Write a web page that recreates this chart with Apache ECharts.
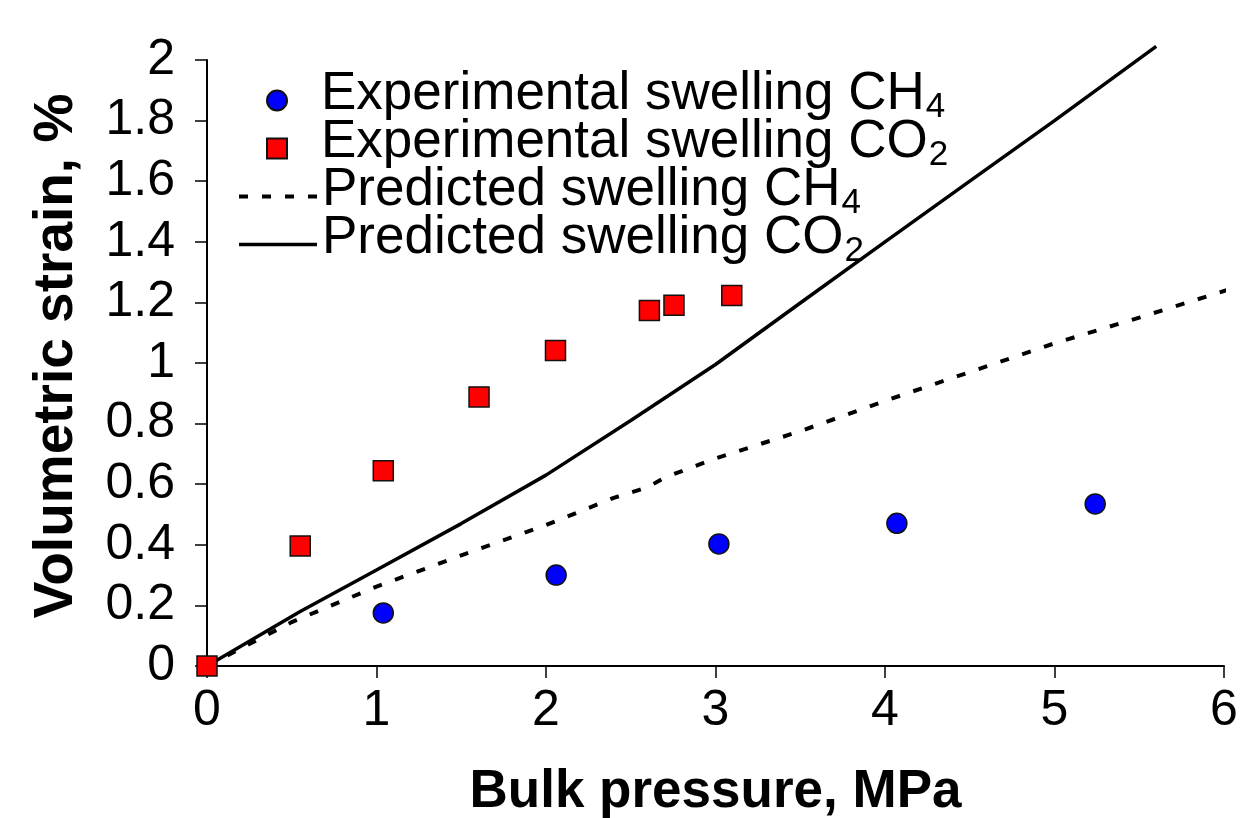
<!DOCTYPE html>
<html>
<head>
<meta charset="utf-8">
<script src="https://cdn.jsdelivr.net/npm/echarts@6/dist/echarts.min.js"></script>
<style>
  html, body { margin: 0; padding: 0; background: #fff; }
  #chart { width: 1240px; height: 818px; }
</style>
</head>
<body>
<div id="chart"></div>
<script>
// Bulk pressure (MPa) vs volumetric strain (%)
const ch4ExpPressure = [1.04, 2.06, 3.02, 4.07, 5.24];
const ch4ExpStrain   = [0.175, 0.30, 0.403, 0.471, 0.535];

const co2ExpPressure = [0, 0.55, 1.04, 1.605, 2.056, 2.61, 2.755, 3.096];
const co2ExpStrain   = [0, 0.396, 0.644, 0.888, 1.041, 1.173, 1.191, 1.223];

const ch4PredPressure = [0, 0.5, 1.0, 1.5, 2.0, 2.4, 2.6, 2.7, 3.0, 3.5, 4.0, 4.5, 5.0, 5.5, 6.1];
const ch4PredStrain   = [0, 0.145, 0.262, 0.365, 0.465, 0.555, 0.59, 0.622, 0.685, 0.775, 0.875, 0.97, 1.065, 1.15, 1.255];

const co2PredPressure = [0, 0.55, 1.0, 1.5, 2.0, 2.5, 3.0, 3.5, 4.0, 4.5, 5.0, 5.6];
const co2PredStrain   = [0, 0.18, 0.317, 0.47, 0.63, 0.81, 0.995, 1.198, 1.40, 1.60, 1.80, 2.045];

const xTicks = [0, 1, 2, 3, 4, 5, 6];
const yTicks = [0, 0.2, 0.4, 0.6, 0.8, 1, 1.2, 1.4, 1.6, 1.8, 2];

const seriesNames = {
  ch4Exp: 'Experimental swelling CH4',
  co2Exp: 'Experimental swelling CO2',
  ch4Pred: 'Predicted swelling CH4',
  co2Pred: 'Predicted swelling CO2'
};

const pairs = (xs, ys) => xs.map((x, i) => [x, ys[i]]);

// legend labels with a subscripted trailing digit
const legendLabel = name => {
  const m = name.match(/^(.*?)(\d)$/);
  return m ? '{m|' + m[1] + '}{s|' + m[2] + '}' : '{m|' + name + '}';
};

const FONT = '"Liberation Sans", Arial, Helvetica, sans-serif';

const DOTTED = { color: '#000', width: 4, type: [9, 14], cap: 'butt' };
const SOLID = { color: '#000', width: 3.5, type: 'solid' };

const legendText = (leftPad) => ({
  fontFamily: FONT,
  color: '#000',
  padding: [0, 0, 8, 0],
  rich: {
    m: { fontFamily: FONT, fontSize: 53, verticalAlign: 'top', padding: [0, 0, 0, leftPad], color: '#000' },
    s: { fontFamily: FONT, fontSize: 35, verticalAlign: 'bottom', padding: [22, 0, 0, 1], color: '#000' }
  }
});

const ROW = 48;
const LEGEND_TOP = 68;
const LEGEND_GAP = -9;
const hiddenSymbol = { color: 'rgba(0,0,0,0)', borderWidth: 0, opacity: 0 };

const chart = echarts.init(document.getElementById('chart'), null, { renderer: 'canvas' });

chart.setOption({
  animation: false,
  backgroundColor: '#ffffff',
  textStyle: { fontFamily: FONT, color: '#000' },
  grid: { left: 207, right: 16, top: 60, bottom: 152, containLabel: false, outerBoundsMode: 'none' },
  legend: [
    {
      // marker entries
      orient: 'vertical',
      left: 266,
      top: LEGEND_TOP,
      padding: 0,
      itemGap: LEGEND_GAP,
      itemWidth: 20,
      itemHeight: 20,
      selectedMode: false,
      data: [seriesNames.ch4Exp, seriesNames.co2Exp],
      formatter: legendLabel,
      textStyle: legendText(29)
    },
    {
      // line entries
      orient: 'vertical',
      left: 237,
      top: LEGEND_TOP + 2 * ROW,
      padding: 0,
      itemGap: LEGEND_GAP,
      itemWidth: 78,
      itemHeight: 20,
      selectedMode: false,
      data: [
        { name: seriesNames.ch4Pred, itemStyle: hiddenSymbol, lineStyle: DOTTED },
        { name: seriesNames.co2Pred, itemStyle: hiddenSymbol, lineStyle: SOLID }
      ],
      formatter: legendLabel,
      textStyle: legendText(0)
    }
  ],
  xAxis: {
    type: 'value',
    min: xTicks[0],
    max: xTicks[xTicks.length - 1],
    interval: 1,
    name: 'Bulk pressure, MPa',
    nameLocation: 'middle',
    nameGap: 100,
    nameTextStyle: { fontFamily: FONT, fontSize: 53, fontWeight: 'bold', color: '#000' },
    axisLine: { show: true, onZero: false, lineStyle: { color: '#000', width: 2 } },
    axisTick: { show: true, inside: false, length: 12, lineStyle: { color: '#000', width: 1.5 } },
    axisLabel: { margin: 20, fontFamily: FONT, fontSize: 50, color: '#000' },
    splitLine: { show: false }
  },
  yAxis: {
    type: 'value',
    min: yTicks[0],
    max: yTicks[yTicks.length - 1],
    interval: 0.2,
    name: 'Volumetric strain, %',
    nameLocation: 'middle',
    nameRotate: 90,
    nameGap: 123,
    nameTextStyle: { fontFamily: FONT, fontSize: 55, fontWeight: 'bold', color: '#000', padding: [0, 0, 0, 14] },
    axisLine: { show: true, onZero: false, lineStyle: { color: '#000', width: 2 } },
    axisTick: { show: true, inside: false, length: 12, lineStyle: { color: '#000', width: 1.5 } },
    axisLabel: { margin: 32, fontFamily: FONT, fontSize: 50, color: '#000' },
    splitLine: { show: false }
  },
  series: [
    {
      name: seriesNames.ch4Pred,
      type: 'line',
      data: pairs(ch4PredPressure, ch4PredStrain),
      showSymbol: false,
      symbol: 'none',
      clip: false,
      z: 2,
      itemStyle: { color: '#000' },
      lineStyle: DOTTED
    },
    {
      name: seriesNames.co2Pred,
      type: 'line',
      data: pairs(co2PredPressure, co2PredStrain),
      showSymbol: false,
      symbol: 'none',
      clip: false,
      z: 2,
      itemStyle: { color: '#000' },
      lineStyle: SOLID
    },
    {
      name: seriesNames.ch4Exp,
      type: 'scatter',
      data: pairs(ch4ExpPressure, ch4ExpStrain),
      symbol: 'circle',
      symbolSize: 20,
      clip: false,
      z: 4,
      itemStyle: { color: '#0000ff', borderColor: '#111', borderWidth: 1.5, opacity: 1 }
    },
    {
      name: seriesNames.co2Exp,
      type: 'scatter',
      data: pairs(co2ExpPressure, co2ExpStrain),
      symbol: 'rect',
      symbolSize: 20,
      clip: false,
      z: 4,
      itemStyle: { color: '#ff0000', borderColor: '#111', borderWidth: 1.5, opacity: 1 }
    }
  ]
});
</script>
</body>
</html>
